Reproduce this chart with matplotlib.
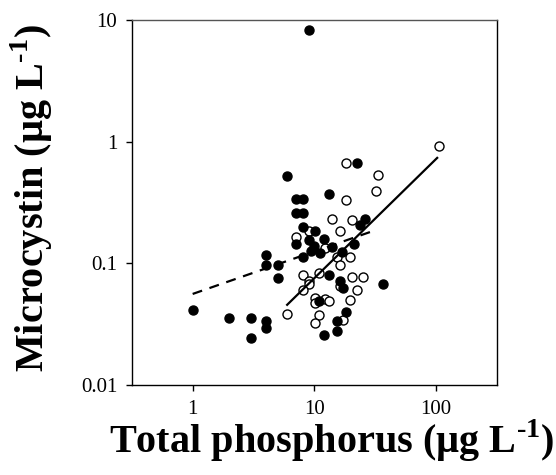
import matplotlib
matplotlib.use("Agg")
import matplotlib.pyplot as plt
import numpy as np

# filled circles (x = total phosphorus, y = microcystin)
filled_tp = [9.0, 6.0, 22.4, 7.0, 8.0, 13.1, 7.0, 8.0, 8.0, 10.2, 26.2, 23.6,
             7.0, 9.0, 12.1, 10.0, 14.0, 9.3, 11.2, 16.9, 21.3, 4.0, 4.0, 5.0,
             8.0, 5.0, 13.1, 16.1, 17.2, 36.7, 1.0, 2.0, 3.0, 4.0, 4.0, 3.0,
             11.0, 18.2, 15.2, 15.2, 12.1]
filled_mc = [8.27, 0.52, 0.67, 0.34, 0.34, 0.374, 0.26, 0.26, 0.198, 0.186,
             0.232, 0.208, 0.145, 0.154, 0.159, 0.140, 0.1355, 0.127, 0.121,
             0.125, 0.145, 0.117, 0.097, 0.097, 0.112, 0.0758, 0.080, 0.071,
             0.0627, 0.0676, 0.0415, 0.0355, 0.0358, 0.0337, 0.0293, 0.0242,
             0.0486, 0.040, 0.0337, 0.0279, 0.0257]

# open circles
open_tp = [105.9, 18.2, 33.1, 31.9, 18.2, 14.0, 20.4, 16.1, 7.0, 9.1, 12.15,
           15.2, 19.5, 16.1, 8.0, 11.0, 20.4, 24.9, 9.0, 9.1, 16.1, 8.0, 22.4,
           10.2, 10.2, 12.3, 13.1, 19.5, 6.0, 11.0, 10.2, 17.1]
open_mc = [0.92, 0.668, 0.528, 0.393, 0.334, 0.232, 0.225, 0.186, 0.166, 0.183,
           0.133, 0.112, 0.112, 0.0975, 0.080, 0.083, 0.0766, 0.0766, 0.071,
           0.067, 0.0655, 0.0604, 0.0604, 0.0519, 0.0468, 0.0508, 0.0486,
           0.0499, 0.0383, 0.0375, 0.0322, 0.0343]

# regression lines (end points)
fit_filled_tp = [1.0, 31.1]
fit_filled_mc = [0.056, 0.186]
fit_open_tp = [5.97, 101.9]
fit_open_mc = [0.0456, 0.735]

x_ticks = [1, 10, 100]
x_tick_labels = ["1", "10", "100"]
y_ticks = [0.01, 0.1, 1, 10]
y_tick_labels = ["0.01", "0.1", "1", "10"]

plt.rcParams["font.family"] = ["Liberation Serif", "DejaVu Serif"]
plt.rcParams["mathtext.fontset"] = "custom"
plt.rcParams["mathtext.rm"] = "Liberation Serif:bold"
plt.rcParams["mathtext.bf"] = "Liberation Serif:bold"

fig = plt.figure(figsize=(5.56, 4.75), dpi=100)
ax = fig.add_axes([0.237, 0.1895, 0.657, 0.7685])

ax.plot(fit_filled_tp, fit_filled_mc, color="black", lw=1.6,
        linestyle=(0, (4.5, 3.5)), zorder=3)
ax.plot(fit_open_tp, fit_open_mc, color="black", lw=1.6, zorder=3)

ax.plot(open_tp, open_mc, "o", ms=6.5, mfc="white", mec="black", mew=1.0,
        zorder=2)
ax.plot(filled_tp, filled_mc, "o", ms=6.5, mfc="black", mec="black", mew=1.0,
        zorder=2)

ax.set_xscale("log")
ax.set_yscale("log")
ax.set_xlim(10 ** -0.5, 10 ** 2.5)
ax.set_ylim(0.01, 10)
ax.set_xticks(x_ticks)
ax.set_xticklabels(x_tick_labels)
ax.set_yticks(y_ticks)
ax.set_yticklabels(y_tick_labels)
ax.minorticks_off()
ax.tick_params(direction="out", length=4.5, width=1, labelsize=15, pad=6,
               top=False, right=False)
for s in ax.spines.values():
    s.set_linewidth(1.0)
ax.spines["top"].set_color("#555555")

fig.text(0.597, 0.046, r"Total phosphorus (µg L$^{\text{-1}}$)",
         fontsize=29, fontweight="bold", ha="center", va="baseline")
fig.text(0.057, 0.584, r"Microcystin (µg L$^{\text{-1}}$)",
         fontsize=29, fontweight="bold", ha="center", va="center",
         rotation=90)

fig.savefig("out.png", dpi=100)
